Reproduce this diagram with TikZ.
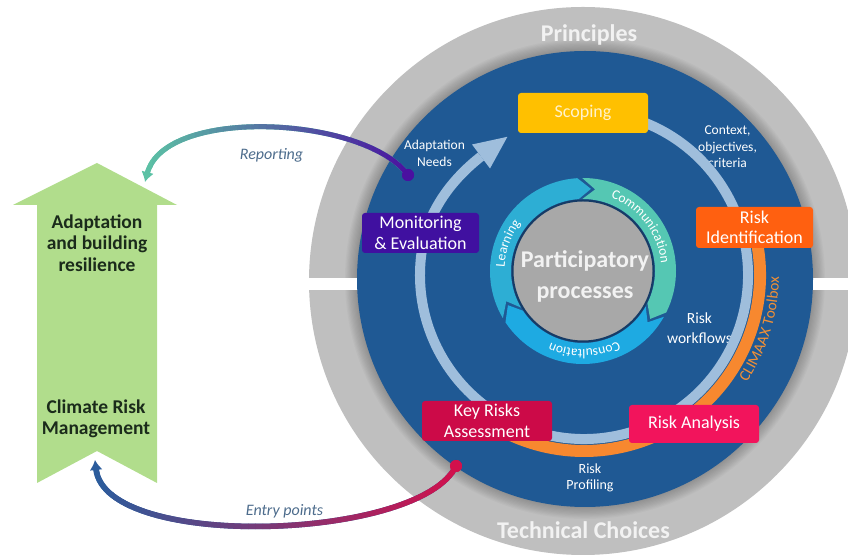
\documentclass[tikz,border=0pt]{standalone}
\usepackage{fontspec}
\setmainfont{Carlito}
\usetikzlibrary{calc,decorations.text,arrows.meta}
\definecolor{discblue}{HTML}{1F5994}
\definecolor{ringblue}{HTML}{9FBEDC}
\definecolor{ringgray}{HTML}{BFBFBF}
\definecolor{arcorange}{HTML}{F7882F}
\definecolor{txtorange}{HTML}{F39035}
\definecolor{scopey}{HTML}{FFC000}
\definecolor{scopet}{HTML}{FFF2CC}
\definecolor{riskidc}{HTML}{FF6010}
\definecolor{monc}{HTML}{4010A0}
\definecolor{riskanc}{HTML}{F2145C}
\definecolor{keyc}{HTML}{CC0A48}
\definecolor{centgray}{HTML}{A8A8A8}
\definecolor{centline}{HTML}{163B66}
\definecolor{greenarr}{HTML}{B1DD8C}
\definecolor{darktxt}{HTML}{1B2B1B}
\definecolor{labblue}{HTML}{4D6C8C}
\definecolor{repteal}{HTML}{5CC2A5}
\definecolor{reppurple}{HTML}{4A10A0}
\definecolor{entblue}{HTML}{2B5C9C}
\definecolor{entred}{HTML}{D2104C}
\definecolor{commc}{HTML}{55C7B3}
\definecolor{consc}{HTML}{1EAAE2}
\definecolor{learnc}{HTML}{2DAED4}
\begin{document}
\begin{tikzpicture}[x=1pt,y=1pt,
  box/.style={rounded corners=3pt, text=white, align=center, inner sep=1pt, font=\fontsize{18}{20.5}\selectfont},
  smalllab/.style={text=white, align=center, font=\fontsize{13.5}{16.5}\selectfont},
  greenlab/.style={text=darktxt, align=center, font=\bfseries\fontsize{19.5}{21.5}\selectfont},
  flowlab/.style={text=labblue, font=\itshape\fontsize{16}{16}\selectfont},
  bigring/.style={text=white!95!black, font=\bfseries\fontsize{24}{24}\selectfont},
  enddot/.style={circle, inner sep=0pt, minimum size=12pt}
]
\useasboundingbox (0,0) rectangle (848,556);
\clip (0,0) rectangle (848,556);
\coordinate (C) at (584,281);
\coordinate (P) at (583,285);
% outer gray ring
\fill[ringgray] (583,275) circle[radius=274];
\foreach \k in {1,...,10} \fill[black,opacity=0.025] (585,277) circle[radius=228+\k*1.2];
\fill[white] (290,266) rectangle (848,278);
% blue disc
\fill[discblue] (585,277) circle[radius=228];
% small labels
\node[smalllab] (adneeds) at (434.5,402.5) {Adaptation\\Needs};
\node[smalllab] (context) at (727.5,409) {Context,\\objectives,\\criteria};
\node[smalllab, font=\fontsize{15.5}{20}\selectfont] (workflows) at (699.5,228) {Risk\\workflows};
\node[smalllab, font=\fontsize{14}{16.5}\selectfont] (profiling) at (590,78) {Risk\\Profiling};
% orange arc
\draw[arcorange, line width=12] ($(C)+(12:176)$) arc[start angle=12, end angle=-116, radius=176];
% light blue cycle
\draw[ringblue, line width=10] ($(C)+(70:164)$) arc[start angle=70, end angle=-190, radius=164] .. controls +(80:37) and +(218:37) .. (481,399.5);
\fill[ringblue] (507.4,419.2) -- (472,411.5) -- (490,387.5) -- cycle;
% CLIMAAX text
\path[decorate, decoration={text along path, text={|\fontsize{15.5}{15.5}\selectfont\color{txtorange}|CLIMAAX Toolbox}, text align=center}] ($(C)+(-57:195)$) arc[start angle=-57, end angle=23, radius=195];
% participatory ring
\foreach \ga/\gb/\col in {92/-28/commc, -28/-148/consc, 212/92/learnc} {
  \fill[\col] ($(P)+(\ga-1.5:93)$) arc[start angle=\ga-1.5, end angle=\gb+1.5, radius=93] -- ($(P)+(\gb-7.5:82.5)$) -- ($(P)+(\gb+1.5:72)$) arc[start angle=\gb+1.5, end angle=\ga-1.5, radius=72] -- ($(P)+(\ga-10.5:82.5)$) -- cycle;
}
\path[decorate, decoration={text along path, text={|\fontsize{13.5}{13.5}\selectfont\color{white}|Communication}, text align=center}] ($(P)+(82.5:78.5)$) arc[start angle=82.5, end angle=-7.5, radius=78.5];
\path[decorate, decoration={text along path, text={|\fontsize{13.5}{13.5}\selectfont\color{white}|Learning}, text align=center}] ($(P)+(205:78.5)$) arc[start angle=205, end angle=115, radius=78.5];
\path[decorate, decoration={text along path, text={|\fontsize{13.5}{13.5}\selectfont\color{white}|Consultation}, text align=center}] ($(P)+(-44:78.5)$) arc[start angle=-44, end angle=-134, radius=78.5];
\node[circle, fill=centgray, draw=centline, line width=2pt, minimum size=141pt, inner sep=0pt] (pcirc) at (P) {};
\node[bigring, align=center, font=\bfseries\fontsize{24}{31}\selectfont] (ptext) at (585,280) {Participatory\\processes};
% boxes
\node[box, fill=scopey, text=scopet, minimum width=130pt, minimum height=40pt] (scoping) at (583,443) {Scoping};
\node[box, fill=riskidc, minimum width=117pt, minimum height=41pt] (riskid) at (754.5,328.5) {Risk\\Identification};
\node[box, fill=monc, minimum width=117pt, minimum height=40pt] (monitor) at (420.5,323) {Monitoring\\\& Evaluation};
\node[box, fill=riskanc, minimum width=130pt, minimum height=38pt] (riskan) at (694,132) {Risk Analysis};
\node[box, fill=keyc, minimum width=130pt, minimum height=40pt] (keyrisk) at (487,135) {Key Risks\\Assessment};
% ring titles
\node[bigring] (princ) at (589,521) {Principles};
\node[bigring] (tech) at (583.5,26) {Technical Choices};
% green arrow
\fill[greenarr] (97,393) -- (177,351) -- (157,351) -- (157,73) -- (97,105) -- (37,73) -- (37,351) -- (13,351) -- cycle;
\node[greenlab] (adapt) at (97,313) {Adaptation\\and building\\resilience};
\node[greenlab] (crm) at (96,137) {Climate Risk\\Management};
% reporting connector
\node[enddot, fill=reppurple] (repdot) at (408,381) {};
\coordinate (reptip) at (145,374);
\draw[line width=5, repteal, -{Latex[length=10pt,width=13pt]}] (repdot.center) .. controls (365,440) and (165,450) .. (reptip);
\foreach \i in {0,...,39} {
  \pgfmathsetmacro\xa{138+\i*7.1}
  \pgfmathtruncatemacro\pc{max(0,min(100,(\xa+3.5-145)/(408-145)*100))}
  \begin{scope}
    \clip (\xa,330) rectangle ++(7.6,130);
    \draw[line width=5, reppurple!\pc!repteal, shorten >=9pt] (repdot.center) .. controls (365,440) and (165,450) .. (reptip);
  \end{scope}
}
\fill[reppurple] (repdot.center) circle[radius=6];
\node[flowlab] (replab) at (271.5,401) {Reporting};
% entry points connector
\node[enddot, fill=entred] (entdot) at (456,90) {};
\coordinate (enttip) at (95,96);
\draw[line width=5.5, entblue, -{Latex[length=10pt,width=13pt]}] (entdot.center) .. controls (420,15) and (105,5) .. (enttip);
\foreach \i in {0,...,53} {
  \pgfmathsetmacro\xa{85+\i*7.1}
  \pgfmathtruncatemacro\pc{max(0,min(100,(\xa+3.5-95)/(456-95)*100))}
  \begin{scope}
    \clip (\xa,0) rectangle ++(7.6,115);
    \draw[line width=5.5, entred!\pc!entblue, shorten >=9pt] (entdot.center) .. controls (420,15) and (105,5) .. (enttip);
  \end{scope}
}
\fill[entred] (entdot.center) circle[radius=6];
\node[flowlab] (entlab) at (284.5,45) {Entry points};
\end{tikzpicture}
\end{document}
